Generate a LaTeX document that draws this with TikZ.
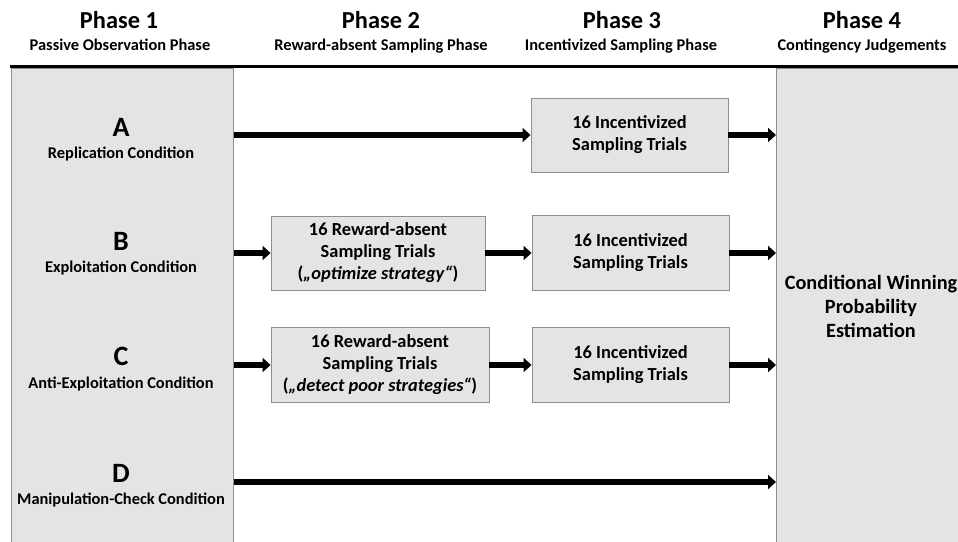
\documentclass[tikz,border=0pt]{standalone}
\usepackage{fontspec}
\setmainfont{Carlito}
\usetikzlibrary{arrows.meta}
\definecolor{boxfill}{HTML}{E4E4E4}
\definecolor{boxline}{HTML}{8E8E8E}
\begin{document}
\begin{tikzpicture}[x=1pt,y=-1pt,
  col/.style={draw=boxline, fill=boxfill, line width=0.9pt, inner sep=0pt, anchor=north west},
  trial/.style={draw=boxline, fill=boxfill, line width=0.9pt, align=center, inner sep=0pt,
    font=\fontsize{18.4}{22}\selectfont\bfseries},
  phasehead/.style={anchor=base, inner sep=0pt, font=\fontsize{24.4}{28}\selectfont\bfseries},
  phasesub/.style={anchor=base, inner sep=0pt, font=\fontsize{16.4}{19}\selectfont\bfseries},
  condletter/.style={anchor=base, inner sep=0pt, font=\fontsize{28}{32}\selectfont\bfseries},
  condname/.style={anchor=base, inner sep=0pt, font=\fontsize{16.4}{19}\selectfont\bfseries},
  arr/.style={line width=5.5pt, -{Triangle[length=8pt,width=14pt]}}
]
\useasboundingbox (0,0) rectangle (958,541);
\clip (0,0) rectangle (958,541);

% columns
\node[col, minimum width=222pt, minimum height=500pt] (p1) at (11,68) {};
\node[col, minimum width=220pt, minimum height=500pt] (p4) at (776,68) {};

% thick rule
\coordinate (ruleL) at (10,66);
\coordinate (ruleR) at (960,66);
\draw[line width=3pt] (ruleL) -- (ruleR);

% headings
\node[phasehead] (h1) at (119,28) {Phase 1};
\node[phasesub]  (s1) at (120,50) {Passive Observation Phase};
\node[phasehead] (h2) at (381,28) {Phase 2};
\node[phasesub]  (s2) at (381,50) {Reward-absent Sampling Phase};
\node[phasehead] (h3) at (622,28) {Phase 3};
\node[phasesub]  (s3) at (621,50) {Incentivized Sampling Phase};
\node[phasehead] (h4) at (862,28) {Phase 4};
\node[phasesub]  (s4) at (862,50) {Contingency Judgements};

% condition labels
\node[condletter] (lA) at (121,136) {A};
\node[condname]   (nA) at (121,158) {Replication Condition};
\node[condletter] (lB) at (121,250) {B};
\node[condname]   (nB) at (121,272) {Exploitation Condition};
\node[condletter] (lC) at (121,365) {C};
\node[condname]   (nC) at (121,388) {Anti-Exploitation Condition};
\node[condletter] (lD) at (121,482) {D};
\node[condname]   (nD) at (121,504) {Manipulation-Check Condition};

% trial boxes
\node[trial, minimum width=197pt, minimum height=74pt] (tA) at (629.5,135) {16 Incentivized\\Sampling Trials};
\node[trial, minimum width=214pt, minimum height=74pt] (rB) at (378,253) {16 Reward-absent\\Sampling Trials\\(\textit{„optimize strategy“})};
\node[trial, minimum width=197pt, minimum height=75pt] (tB) at (630.5,253) {16 Incentivized\\Sampling Trials};
\node[trial, minimum width=218pt, minimum height=75pt] (rC) at (380,365) {16 Reward-absent\\Sampling Trials\\(\textit{„detect poor strategies“})};
\node[trial, minimum width=197pt, minimum height=75pt] (tC) at (630.5,365) {16 Incentivized\\Sampling Trials};

% phase 4 text
\node[align=center, inner sep=0pt, font=\fontsize{20.3}{24}\selectfont\bfseries] (est) at (871,306)
  {Conditional Winning\\Probability\\Estimation};

% arrows
\draw[arr] (p1.east |- tA.west) -- (tA.west);
\draw[arr] (tA.east) -- (p4.west |- tA.east);
\draw[arr] (p1.east |- rB.west) -- (rB.west);
\draw[arr] (rB.east) -- (tB.west);
\draw[arr] (tB.east) -- (p4.west |- tB.east);
\draw[arr] (p1.east |- rC.west) -- (rC.west);
\draw[arr] (rC.east) -- (tC.west);
\draw[arr] (tC.east) -- (p4.west |- tC.east);
\coordinate (dy) at (500,482);
\draw[arr] (p1.east |- dy) -- (p4.west |- dy);
\end{tikzpicture}
\end{document}
